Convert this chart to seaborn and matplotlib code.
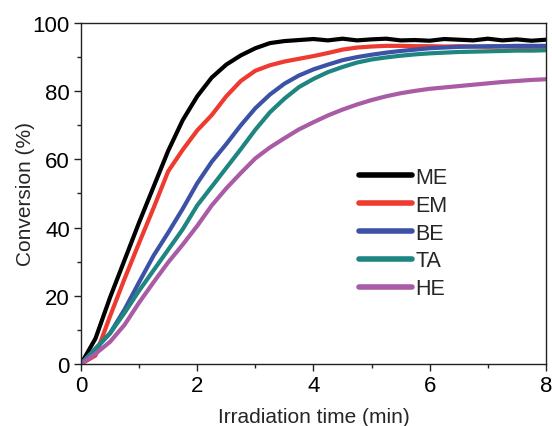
import pandas as pd
import numpy as np
import matplotlib
matplotlib.use("Agg")
import matplotlib.pyplot as plt
import seaborn as sns
from matplotlib.ticker import MultipleLocator

# irradiation time (min)
time = [0, 0.25, 0.5, 0.75, 1, 1.25, 1.5, 1.75, 2, 2.25, 2.5, 2.75, 3, 3.25, 3.5, 3.75,
        4, 4.25, 4.5, 4.75, 5, 5.25, 5.5, 5.75, 6, 6.25, 6.5, 6.75, 7, 7.25, 7.5, 7.75, 8]

# conversion (%) for each monomer
me = [0, 7.5, 19.5, 30.5, 41.5, 52, 62.5, 71.5, 78.5, 84, 87.8, 90.5, 92.6, 94.1, 94.7, 95.0,
      95.3, 94.9, 95.4, 94.9, 95.2, 95.4, 94.9, 95.0, 94.8, 95.3, 95.1, 94.9, 95.4, 94.9, 95.2, 94.8, 95.1]
em = [0, 2.5, 14, 25, 35.5, 45.8, 56.5, 62.8, 68.5, 73, 78.5, 83, 86, 87.6, 88.7, 89.5,
      90.3, 91.2, 92.2, 92.8, 93.1, 93.3, 93.3, 93.2, 93.2, 93.1, 93.2, 93.1, 93.0, 93.1, 93.0, 93.0, 93.0]
be = [0, 4.5, 9, 16, 24, 31.8, 38.5, 45.5, 53, 59.3, 64.5, 70, 75, 79, 82.2, 84.6,
      86.4, 87.8, 89.1, 90, 90.7, 91.3, 91.8, 92.2, 92.6, 92.8, 93, 93.1, 93.2, 93.2, 93.3, 93.3, 93.3]
ta = [0, 4.5, 9, 15, 21.5, 27.5, 33.5, 39.5, 46.5, 52, 57.5, 63, 68.7, 73.8, 77.8, 81.2,
      83.6, 85.6, 87.1, 88.4, 89.3, 89.9, 90.4, 90.8, 91.1, 91.3, 91.5, 91.6, 91.7, 91.8, 91.9, 91.9, 92]
he = [0, 3, 6.5, 11.5, 18, 24, 29.8, 35, 40.5, 46.5, 51.5, 56, 60.3, 63.5, 66.2, 68.8,
      70.9, 72.9, 74.6, 76.1, 77.4, 78.5, 79.4, 80.1, 80.7, 81.1, 81.5, 81.9, 82.3, 82.7, 83, 83.3, 83.5]

labels = ["ME", "EM", "BE", "TA", "HE"]
colors = ["#000000", "#EE3A2F", "#3C52A6", "#1E8580", "#A95BA6"]

df = pd.concat([pd.DataFrame({"time": time, "conv": v, "monomer": n})
                for n, v in zip(labels, [me, em, be, ta, he])], ignore_index=True)

sns.set_style("ticks")
plt.rcParams["font.family"] = ["Liberation Sans", "DejaVu Sans"]

fig = plt.figure(figsize=(5.52, 4.27), dpi=100)
ax = fig.add_axes([0.1467, 0.1452, 0.8423, 0.7986])

sns.lineplot(data=df, x="time", y="conv", hue="monomer", palette=colors,
             hue_order=labels, linewidth=3, ax=ax, solid_capstyle="round",
             solid_joinstyle="round")

ax.set_xlim(0, 8)
ax.set_ylim(0, 100)
ax.xaxis.set_major_locator(MultipleLocator(2))
ax.xaxis.set_minor_locator(MultipleLocator(1))
ax.yaxis.set_major_locator(MultipleLocator(20))
ax.yaxis.set_minor_locator(MultipleLocator(10))
ax.tick_params(which="major", direction="out", length=5, width=1, labelsize=16,
               color="#222222", labelcolor="black", pad=3)
ax.tick_params(which="minor", direction="out", length=3, width=1, color="#222222")
for s in ax.spines.values():
    s.set_linewidth(1)
    s.set_color("#222222")

ax.set_xlabel("Irradiation time (min)", fontsize=15, labelpad=8)
ax.set_ylabel("Conversion (%)", fontsize=15, labelpad=-2)

leg = ax.legend(loc="upper left", bbox_to_anchor=(0.574, 0.61), frameon=False,
                fontsize=15.5, handlelength=2.5, handletextpad=0.15, labelspacing=0.32,
                borderpad=0)
for h in leg.get_lines():
    h.set_linewidth(4)
    h.set_solid_capstyle("round")

fig.savefig("out.png", dpi=100)
